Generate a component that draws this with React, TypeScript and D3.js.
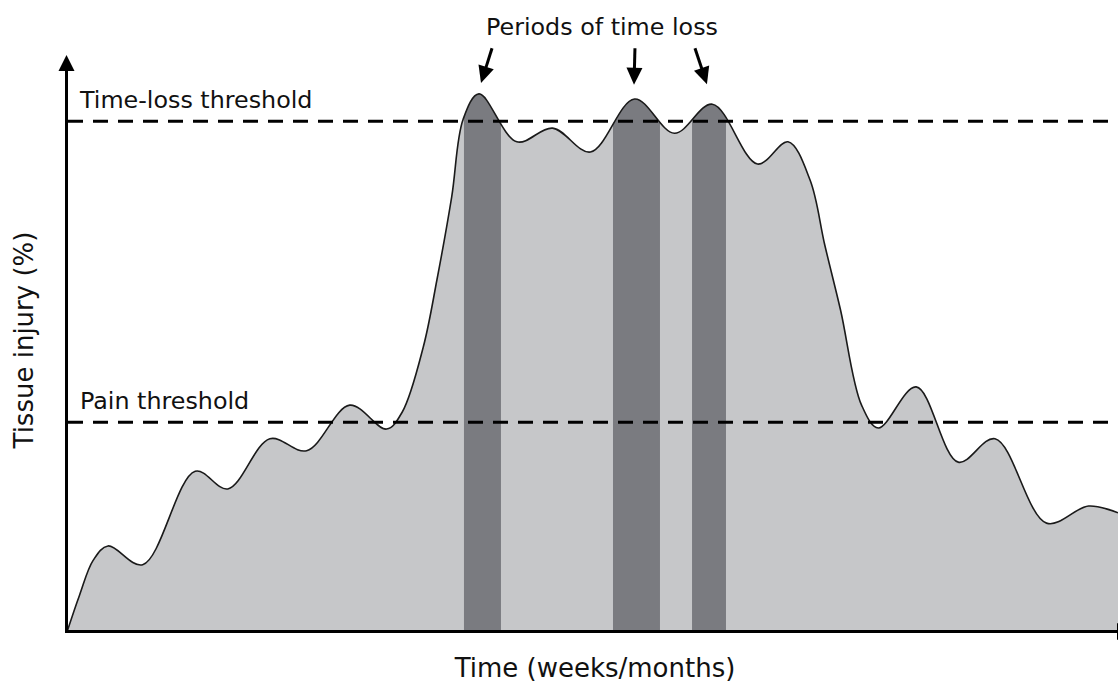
import React from "react";
import * as d3 from "d3";

// Time axis (arbitrary units 0..100) and tissue injury (%)
const timePts = [0, 1.2, 2.5, 3.9, 7.2, 12.2, 15.3, 19.3, 22.8, 26.9, 30.4, 31.9, 33.9, 35.2, 36.6, 37.7, 39.2, 42.8, 46.2, 49.8, 54.0, 57.8, 61.4, 65.7, 68.6, 70.7, 72.1, 73.6, 75.6, 77.2, 80.8, 84.8, 88.3, 93.2, 97.2, 100];
const injuryPts = [0, 6.5, 12.6, 15.1, 11.8, 28.2, 25.1, 33.9, 31.8, 39.8, 35.6, 38.6, 50.0, 61.8, 76.3, 90.0, 94.4, 86.0, 88.4, 84.2, 93.5, 87.5, 92.6, 82.1, 86.0, 79.3, 67.9, 56.5, 39.8, 35.8, 43.0, 29.8, 33.9, 19.1, 22.1, 20.9];

// Periods of time loss (start, end in time units)
const periodStart = [37.77, 51.95, 59.47];
const periodEnd = [41.29, 56.42, 62.7];

// Annotation arrows (tail -> tip)
const arrowTailX = [40.44, 54.04, 59.75];
const arrowTipX = [39.39, 53.95, 60.89];
const arrowTailY = [102.4, 102.4, 102.4];
const arrowTipY = [96.3, 96.0, 96.1];

const thresholdNames = ["Time-loss threshold", "Pain threshold"];
const thresholdValues = [89.6, 36.8];

const xTitle = "Time (weeks/months)";
const yTitle = "Tissue injury (%)";
const annotationTitle = "Periods of time loss";

const W = 1118;
const H = 684;

export default function App() {
  const x = d3.scaleLinear().domain([0, 100]).range([67, 1118]);
  const y = d3.scaleLinear().domain([0, 100]).range([632, 62]);

  const pts: [number, number][] = timePts.map((t, i) => [t, injuryPts[i]]);

  const curve = d3.curveCatmullRom.alpha(0.5);
  const area = d3
    .area<[number, number]>()
    .x((d) => x(d[0]))
    .y0(y(0))
    .y1((d) => y(d[1]))
    .curve(curve);
  const line = d3
    .line<[number, number]>()
    .x((d) => x(d[0]))
    .y((d) => y(d[1]))
    .curve(curve);

  const areaPath = area(pts) || "";
  const linePath = line(pts) || "";

  const font = "'DejaVu Sans', Verdana, sans-serif";
  const ox = x(0) - 0.5;
  const oy = y(0) - 0.5;

  const arrowHead = (tx: number, ty: number, sx: number, sy: number) => {
    const dx = tx - sx;
    const dy = ty - sy;
    const len = Math.sqrt(dx * dx + dy * dy);
    const ux = dx / len;
    const uy = dy / len;
    const hl = 17;
    const hw = 8;
    const bx = tx - ux * hl;
    const by = ty - uy * hl;
    return `M${tx},${ty}L${bx - uy * hw},${by + ux * hw}L${bx + uy * hw},${by - ux * hw}Z`;
  };

  return (
    <svg
      width={W}
      height={H}
      style={{ position: "absolute", left: 0, top: 0, background: "#fff" }}
    >
      <defs>
        <clipPath id="areaClip">
          <path d={areaPath} />
        </clipPath>
      </defs>
      <path d={areaPath} fill="#c6c7c9" />
      <g clipPath="url(#areaClip)">
        {periodStart.map((s, i) => (
          <rect
            key={i}
            x={x(s)}
            y={0}
            width={x(periodEnd[i]) - x(s)}
            height={y(0)}
            fill="#7a7b80"
          />
        ))}
      </g>
      <path d={linePath} fill="none" stroke="#1a1a1a" strokeWidth={1.6} />

      {thresholdValues.map((v, i) => (
        <g key={i}>
          <line
            x1={ox + 1.5}
            x2={W}
            y1={y(v)}
            y2={y(v)}
            stroke="#000"
            strokeWidth={3}
            strokeDasharray="15 10"
          />
          <text
            x={80}
            y={y(v) - 13}
            fontFamily={font}
            fontSize={23.8}
            fill="#111"
          >
            {thresholdNames[i]}
          </text>
        </g>
      ))}

      {/* axes */}
      <line x1={ox} x2={ox} y1={oy + 1.5} y2={70} stroke="#000" strokeWidth={3} />
      <path d={`M${ox},55L${ox - 8},71L${ox + 8},71Z`} fill="#000" />
      <line x1={ox - 1.5} x2={1118} y1={oy} y2={oy} stroke="#000" strokeWidth={3} />
      <path d={`M1117,${oy - 8.5}L1133,${oy}L1117,${oy + 8.5}Z`} fill="#000" />

      {/* annotation */}
      <text
        x={602}
        y={35}
        textAnchor="middle"
        fontFamily={font}
        fontSize={23.8}
        fill="#111"
      >
        {annotationTitle}
      </text>
      {arrowTailX.map((sx, i) => {
        const X1 = x(sx);
        const Y1 = y(arrowTailY[i]);
        const X2 = x(arrowTipX[i]);
        const Y2 = y(arrowTipY[i]);
        const dx = X2 - X1;
        const dy = Y2 - Y1;
        const len = Math.sqrt(dx * dx + dy * dy);
        return (
          <g key={i}>
            <line
              x1={X1}
              y1={Y1}
              x2={X2 - (dx / len) * 12}
              y2={Y2 - (dy / len) * 12}
              stroke="#000"
              strokeWidth={3}
            />
            <path d={arrowHead(X2, Y2, X1, Y1)} fill="#000" />
          </g>
        );
      })}

      {/* axis titles */}
      <text
        x={595}
        y={677}
        textAnchor="middle"
        fontFamily={font}
        fontSize={26}
        fill="#111"
      >
        {xTitle}
      </text>
      <text
        transform={`translate(33,340) rotate(-90)`}
        textAnchor="middle"
        fontFamily={font}
        fontSize={26}
        fill="#111"
      >
        {yTitle}
      </text>
    </svg>
  );
}
